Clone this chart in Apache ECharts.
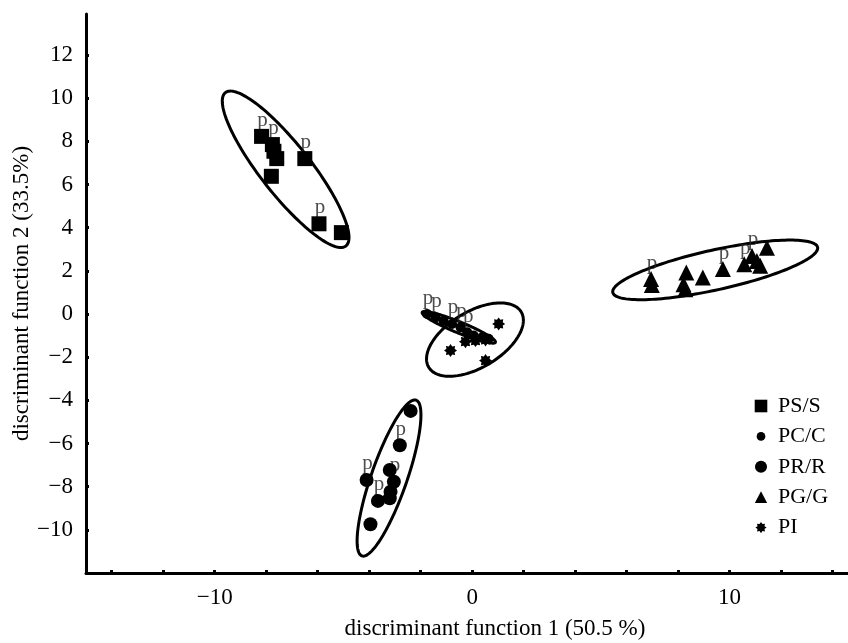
<!DOCTYPE html>
<html><head><meta charset="utf-8">
<script src="https://cdn.jsdelivr.net/npm/echarts@6/dist/echarts.min.js"></script>
<style>html,body{margin:0;padding:0;background:#fff}#c{width:848px;height:643px}</style>
</head><body><div id="c"></div>
<script>
// ---- data ----
const groups = ['PS/S', 'PC/C', 'PR/R', 'PG/G', 'PI'];
const psS = [[-8.18,8.23],[-7.76,7.85],[-7.70,7.54],[-7.59,7.20],[-7.80,6.38],[-6.50,7.20],[-5.95,4.18],[-5.08,3.77]];
const psSLabelled = [0,1,5,6];
const pcC = [[-1.75,0.00],[-1.42,-0.16],[-1.11,-0.31],[-0.78,-0.46],[-0.45,-0.62],[-0.19,-0.85],[0.06,-1.00],[0.39,-1.08],[0.64,-1.15]];
const pcCLabelled = [0,1,3,4,5];
const prR = [[-2.39,-4.49],[-2.81,-6.08],[-3.20,-7.23],[-3.04,-7.77],[-3.17,-8.23],[-3.20,-8.54],[-3.66,-8.66],[-4.10,-7.69],[-3.95,-9.74]];
const prRLabelled = [1,3,6,7];
const pgG = [[6.95,1.62],[6.98,1.34],[8.32,1.92],[8.28,1.15],[8.21,1.38],[8.96,1.69],[9.74,2.08],[10.57,2.31],[10.87,2.69],[11.06,2.46],[11.19,2.23],[11.45,3.07]];
const pgGLabelled = [0,6,7,8];
const pI = [[1.03,-0.46],[-0.84,-1.69],[0.52,-2.16],[-0.26,-1.28],[0.13,-1.23],[0.52,-1.20]];
// confidence ellipses: centre x, centre y, half major axis dx, dy, minor/major ratio
const ellipsePS = [-7.245, 6.705, 2.34, -3.553, 0.256];
const ellipsePC = [-0.518, -0.618, 1.422, -0.693, 0.14];
const ellipsePR = [-3.229, -7.60, 1.052, 3.608, 0.217];
const ellipsePG = [9.441, 2.044, 3.978, 1.048, 0.19];
const ellipsePI = [0.109, -1.186, 1.796, 1.283, 0.52];
const xTicks = [-14,-12,-10,-8,-6,-4,-2,0,2,4,6,8,10,12,14];
const xLabels = [-10, 0, 10];
const yTicks = [-10,-8,-6,-4,-2,0,2,4,6,8,10,12];

// ---- styling ----
const FONT = "'Liberation Serif', 'Times New Roman', serif";
function starPath(n, R, r) {
  let d = '';
  for (let i = 0; i < 2 * n; i++) {
    const a = Math.PI * i / n - Math.PI / 2;
    const rr = i % 2 ? r : R;
    d += (i ? 'L' : 'M') + (50 + rr * Math.cos(a)).toFixed(2) + ' ' + (50 + rr * Math.sin(a)).toFixed(2) + ' ';
  }
  return 'path://' + d + 'Z';
}
const STAR = starPath(8, 50, 34);
const STAR_ICON = 'path://M0 0 M100 100 ' + starPath(8, 40, 27).slice(7);
const SMALL_DOT_ICON = 'path://M0 0 M100 100 M19 50 A31 31 0 1 1 81 50 A31 31 0 1 1 19 50 Z';
const MID_DOT_ICON = 'path://M0 0 M100 100 M7 50 A43 43 0 1 1 93 50 A43 43 0 1 1 7 50 Z';

const minus = v => String(v).replace('-', '\u2212');

const sets = [
  {name: 'PS/S', data: psS, lab: psSLabelled, symbol: 'rect', size: 15, ell: ellipsePS},
  {name: 'PC/C', data: pcC, lab: pcCLabelled, symbol: 'circle', size: 10, ell: ellipsePC},
  {name: 'PR/R', data: prR, lab: prRLabelled, symbol: 'circle', size: 14, ell: ellipsePR},
  {name: 'PG/G', data: pgG, lab: pgGLabelled, symbol: 'triangle', size: 16, ell: ellipsePG},
  {name: 'PI', data: pI, lab: [], symbol: STAR, size: 13, ell: ellipsePI}
];

const series = [];
series.push({
  type: 'custom', name: 'ellipses', silent: true, z: 1,
  data: sets.map(s => s.ell),
  encode: {x: 0, y: 1},
  renderItem: function (params, api) {
    const c = api.coord([api.value(0), api.value(1)]);
    const t = api.coord([api.value(0) + api.value(2), api.value(1) + api.value(3)]);
    const ux = t[0] - c[0], uy = t[1] - c[1];
    const r = api.value(4);
    const vx = -uy * r, vy = ux * r;
    const pts = [];
    for (let k = 0; k < 160; k++) {
      const a = k / 160 * 2 * Math.PI;
      pts.push([c[0] + ux * Math.cos(a) + vx * Math.sin(a), c[1] + uy * Math.cos(a) + vy * Math.sin(a)]);
    }
    return {type: 'polygon', shape: {points: pts}, style: {fill: 'none', stroke: '#000', lineWidth: 3}};
  }
});
sets.forEach(s => {
  series.push({
    type: 'scatter', name: s.name + ' p', z: 2, silent: true,
    symbol: 'circle', symbolSize: 1,
    itemStyle: {color: 'transparent'},
    data: s.lab.map(i => s.data[i]),
    label: {show: true, formatter: 'p', position: 'inside', offset: [1, -16],
      fontFamily: FONT, fontSize: 21, color: '#222'}
  });
});
sets.forEach(s => {
  series.push({
    type: 'scatter', name: s.name, z: 3,
    symbol: s.symbol, symbolSize: s.size,
    itemStyle: {color: '#000', opacity: 1},
    data: s.data
  });
});

const chart = echarts.init(document.getElementById('c'), null, {renderer: 'canvas'});
chart.setOption({
  animation: false,
  backgroundColor: '#fff',
  grid: {left: 86, right: 0, top: 14, bottom: 70, containLabel: false, outerBoundsMode: 'none'},
  legend: {
    orient: 'vertical', left: 749, top: 390, itemGap: 8.4,
    itemWidth: 14, itemHeight: 14,
    textStyle: {fontFamily: FONT, fontSize: 22, color: '#000', padding: [0, 0, 0, 5]},
    selectedMode: false,
    data: [
      {name: 'PS/S', icon: 'path://M0 0 M100 100 M5 5 L95 5 L95 95 L5 95 Z'},
      {name: 'PC/C', icon: SMALL_DOT_ICON},
      {name: 'PR/R', icon: MID_DOT_ICON},
      {name: 'PG/G', icon: 'path://M0 0 M100 100 M50 8 L94 92 L6 92 Z'},
      {name: 'PI', icon: STAR_ICON}
    ]
  },
  xAxis: {
    type: 'value', min: -15, max: 14.6,
    name: 'discriminant function 1 (50.5 %)', nameLocation: 'middle', nameGap: 44, nameMoveOverlap: false,
    nameTextStyle: {fontFamily: FONT, fontSize: 23, color: '#000', padding: [0, 0, 0, 56]},
    axisLine: {onZero: false, lineStyle: {color: '#000', width: 3}},
    axisTick: {show: true, inside: true, length: 3, lineStyle: {color: '#000', width: 3}, customValues: xTicks},
    axisLabel: {customValues: xLabels, fontFamily: FONT, fontSize: 23, color: '#000', margin: 13, formatter: minus},
    splitLine: {show: false}
  },
  yAxis: {
    type: 'value', min: -12, max: 13.9,
    name: 'discriminant function 2 (33.5%)', nameLocation: 'middle', nameGap: 53, nameMoveOverlap: false,
    nameTextStyle: {fontFamily: FONT, fontSize: 23, color: '#000'},
    axisLine: {onZero: false, lineStyle: {color: '#000', width: 3}},
    axisTick: {show: true, inside: true, length: 3, lineStyle: {color: '#000', width: 3}, customValues: yTicks},
    axisLabel: {customValues: yTicks, fontFamily: FONT, fontSize: 23, color: '#000', margin: 13, formatter: minus},
    splitLine: {show: false}
  },
  series: series
});
</script></body></html>
